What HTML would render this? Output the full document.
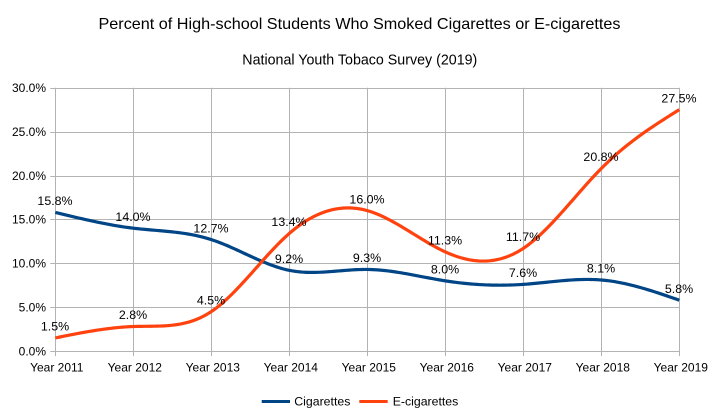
<!DOCTYPE html>
<html>
<head>
<meta charset="utf-8">
<style>
html,body{margin:0;padding:0;background:#fff;}
svg{display:block;}
text{font-family:"Liberation Sans",Arial,sans-serif;fill:#000;}
</style>
</head>
<body>
<svg id="chart" width="722" height="411" viewBox="0 0 722 411" xmlns="http://www.w3.org/2000/svg">
<rect x="0" y="0" width="722" height="411" fill="#fff"/>
<text x="359.5" y="29" font-size="16" text-anchor="middle" textLength="522" lengthAdjust="spacingAndGlyphs">Percent of High-school Students Who Smoked Cigarettes or E-cigarettes</text>
<text x="359.8" y="64.3" font-size="14.5" text-anchor="middle" textLength="235" lengthAdjust="spacingAndGlyphs">National Youth Tobaco Survey (2019)</text>
<g id="grid" stroke="#b3b3b3" stroke-width="1" fill="none"></g>
<g id="ylabels" font-size="12" text-anchor="end"></g>
<g id="xlabels" font-size="12" text-anchor="middle"></g>
<path id="cig" fill="none" stroke="#004586" stroke-width="3.2" stroke-linejoin="round" stroke-linecap="butt" d="M55.3,212.3 L679.3,300"/>
<path id="ecig" fill="none" stroke="#ff420e" stroke-width="3.2" stroke-linejoin="round" stroke-linecap="butt" d="M55.3,337.8 L679.3,109.5"/>
<g id="dlabels" font-size="12.4" text-anchor="middle"></g>
<line x1="261.7" y1="401.5" x2="290" y2="401.5" stroke="#004586" stroke-width="3"/>
<text x="294.3" y="405.7" font-size="12.3">Cigarettes</text>
<line x1="359.3" y1="401.5" x2="387.7" y2="401.5" stroke="#ff420e" stroke-width="3"/>
<text x="392.7" y="405.7" font-size="12.3">E-cigarettes</text>
</svg>
<script>
(function(){
  var NS="http://www.w3.org/2000/svg";
  var X0=55.3, DX=78, Y0=351.1, PX=263.4/30;
  function X(i){return X0+DX*i;}
  function Y(v){return Y0-v*PX;}
  function el(tag,attrs,parent,txt){var e=document.createElementNS(NS,tag);for(var k in attrs)e.setAttribute(k,attrs[k]);if(txt!=null)e.textContent=txt;parent.appendChild(e);return e;}
  var grid=document.getElementById('grid');
  var yl=document.getElementById('ylabels');
  var xl=document.getElementById('xlabels');
  var dl=document.getElementById('dlabels');
  for(var k=0;k<=6;k++){
    var y=Math.round(Y(k*5))+0.5;
    el('line',{x1:X0-5,y1:y,x2:X(8),y2:y},grid);
    el('text',{x:46,y:(Y(k*5)+4.3).toFixed(1)},yl,(k*5).toFixed(1)+'%');
  }
  var years=[2011,2012,2013,2014,2015,2016,2017,2018,2019];
  for(var i=0;i<9;i++){
    var x=Math.round(X(i))+0.5;
    el('line',{x1:x,y1:Y(30),x2:x,y2:Y0+5},grid);
    el('text',{x:(X(i)+1.5).toFixed(1),y:371.5},xl,'Year '+years[i]);
  }
  var cig=[15.8,14.0,12.7,9.2,9.3,8.0,7.6,8.1,5.8];
  var ecig=[1.5,2.8,4.5,13.4,16.0,11.3,11.7,20.8,27.5];
  function spline(ys){
    var n=ys.length, M=new Array(n).fill(0);
    var m=n-2, a=[],b=[],c=[],d=[];
    for(var i=1;i<=m;i++){a.push(1);b.push(4);c.push(1);d.push(6*(ys[i+1]-2*ys[i]+ys[i-1]));}
    var cp=[],dp=[];
    cp[0]=c[0]/b[0];dp[0]=d[0]/b[0];
    for(var i=1;i<m;i++){var den=b[i]-a[i]*cp[i-1];cp[i]=c[i]/den;dp[i]=(d[i]-a[i]*dp[i-1])/den;}
    var sol=[];sol[m-1]=dp[m-1];
    for(var i=m-2;i>=0;i--)sol[i]=dp[i]-cp[i]*sol[i+1];
    for(var i=1;i<=m;i++)M[i]=sol[i-1];
    var pts=[];
    var S=30;
    for(var i=0;i<n-1;i++){
      for(var s=0;s<S;s++){
        var t=s/S,u=1-t;
        var v=M[i]*u*u*u/6+M[i+1]*t*t*t/6+(ys[i]-M[i]/6)*u+(ys[i+1]-M[i+1]/6)*t;
        pts.push([X(i+t),Y(v)]);
      }
    }
    pts.push([X(n-1),Y(ys[n-1])]);
    var str='M'+pts[0][0].toFixed(2)+','+pts[0][1].toFixed(2);
    for(var j=1;j<pts.length;j++)str+=' L'+pts[j][0].toFixed(2)+','+pts[j][1].toFixed(2);
    return str;
  }
  document.getElementById('cig').setAttribute('d',spline(cig));
  document.getElementById('ecig').setAttribute('d',spline(ecig));
  function labels(ys){
    for(var i=0;i<ys.length;i++){
      el('text',{x:(X(i)-0.3).toFixed(1),y:(Y(ys[i])-7.3).toFixed(1)},dl,ys[i].toFixed(1)+'%');
    }
  }
  labels(cig);labels(ecig);
})();
</script>
</body>
</html>
